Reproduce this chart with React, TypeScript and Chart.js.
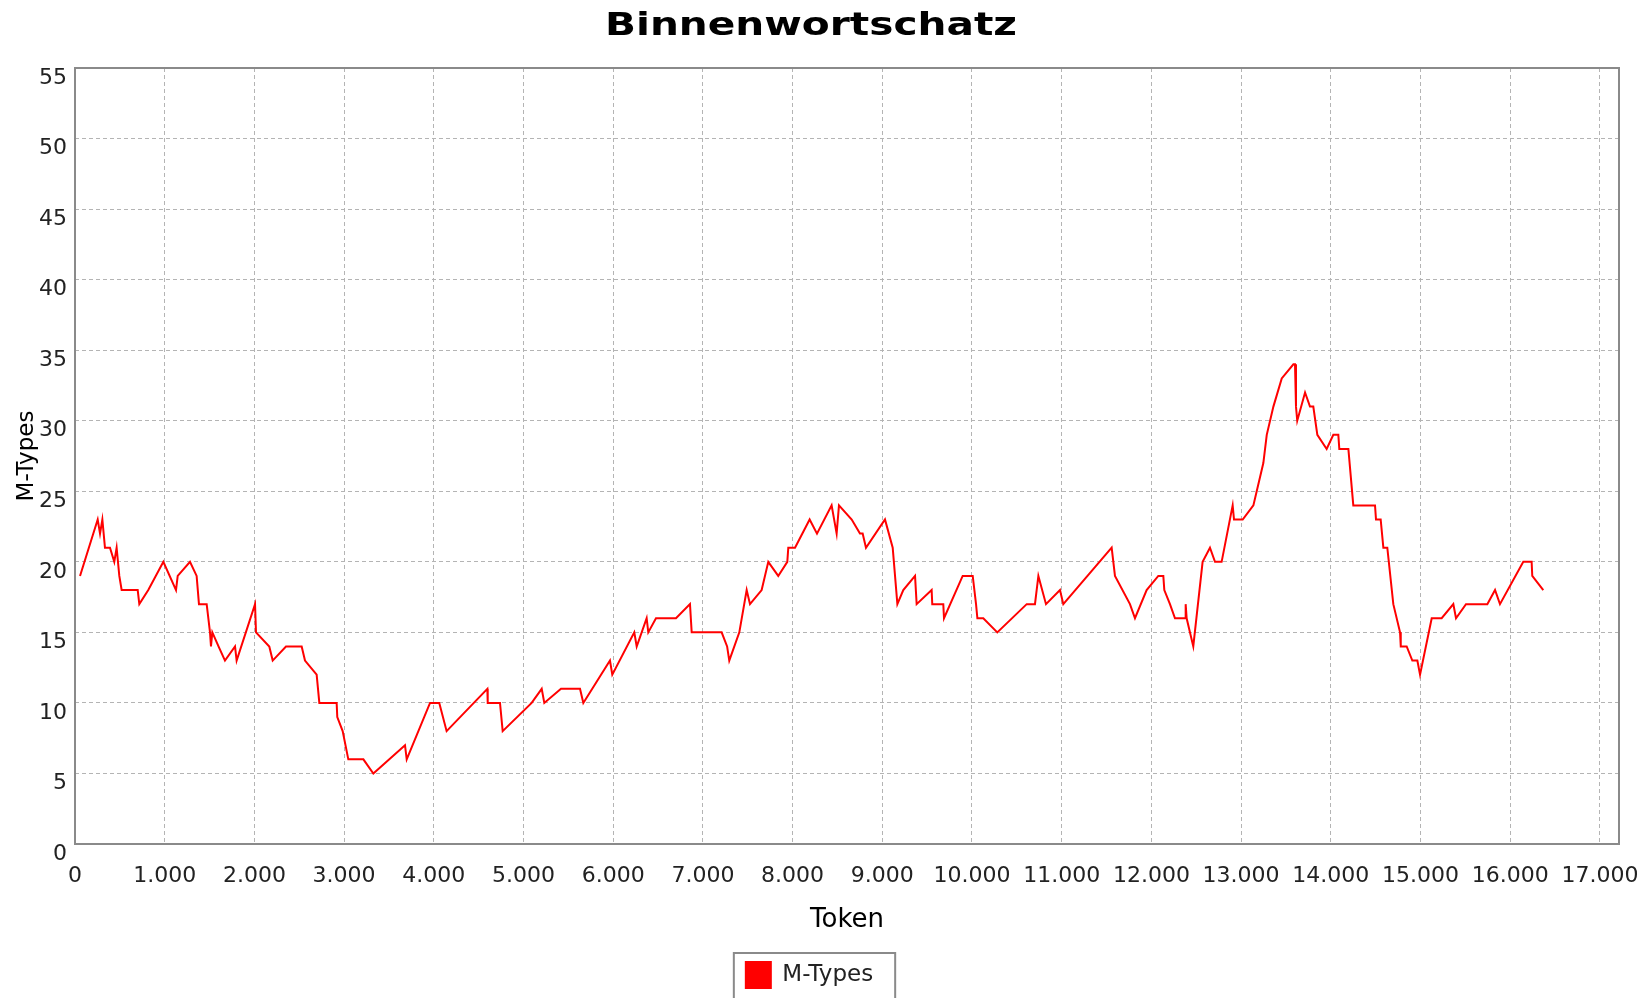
import React, { useEffect, useRef } from "react";
import { Chart, registerables } from "chart.js";

Chart.register(...registerables);

const chartTitle = "Binnenwortschatz";
const seriesLabel = "M-Types";
const xAxisTitle = "Token";
const yAxisTitle = "M-Types";

const xMin = 0;
const xMax = 17213;
const xTickValues = [
  0, 1000, 2000, 3000, 4000, 5000, 6000, 7000, 8000, 9000, 10000, 11000, 12000, 13000, 14000, 15000, 16000, 17000,
];
const yMin = 0;
const yMax = 55;
const yStep = 5;

const tokens = [
  56, 253, 279, 305, 334, 390, 438, 464, 494, 520, 699, 717, 817, 985, 1126, 1145, 1282, 1356, 1382, 1468,
  1505, 1516, 1531, 1600, 1672, 1784, 1802, 2007, 2018, 2166, 2204, 2352, 2527, 2564, 2694, 2724, 2917, 2924,
  2984, 3047, 3215, 3326, 3679, 3698, 3958, 4061, 4143, 4597, 4601, 4738, 4768, 5091, 5203, 5232, 5418, 5630,
  5667, 5964, 5990, 6235, 6262, 6373, 6391, 6477, 6700, 6856, 6875, 7209, 7270, 7294, 7406, 7488, 7525, 7655,
  7729, 7840, 7941, 7952, 8027, 8190, 8272, 8435, 8491, 8517, 8659, 8751, 8781, 8818, 9030, 9116, 9168, 9234,
  9365, 9383, 9550, 9557, 9680, 9688, 9896, 10008, 10045, 10060, 10126, 10282, 10610, 10702, 10740, 10825,
  10981, 11018, 11557, 11594, 11761, 11817, 11947, 12077, 12133, 12144, 12207, 12263, 12375, 12382, 12393,
  12467, 12571, 12653, 12709, 12783, 12906, 12921, 13018, 13137, 13248, 13286, 13360, 13453, 13583, 13601,
  13612, 13626, 13713, 13768, 13805, 13850, 13954, 14028, 14084, 14095, 14196, 14251, 14493, 14504, 14556,
  14586, 14630, 14697, 14772, 14780, 14846, 14909, 14965, 14995, 15125, 15236, 15366, 15396, 15507, 15745,
  15831, 15886, 16146, 16239, 16246, 16369,
];

const mTypes = [
  19, 23, 22, 23, 21, 21, 20, 21, 19, 18, 18, 17, 18, 20, 18, 19, 20, 19, 17, 17,
  15, 14, 15, 14, 13, 14, 13, 17, 15, 14, 13, 14, 14, 13, 12, 10, 10, 9,
  8, 6, 6, 5, 7, 6, 10, 10, 8, 11, 10, 10, 8, 10, 11, 10, 11, 11,
  10, 13, 12, 15, 14, 16, 15, 16, 16, 17, 15, 15, 14, 13, 15, 18, 17, 18,
  20, 19, 20, 21, 21, 23, 22, 24, 22, 24, 23, 22, 22, 21, 23, 21, 17, 18,
  19, 17, 18, 17, 17, 16, 19, 19, 17, 16, 16, 15, 17, 17, 19, 17,
  18, 17, 21, 19, 17, 16, 18, 19, 19, 18, 17, 16, 16, 17, 16,
  14, 20, 21, 20, 20, 24, 23, 23, 24, 27, 29, 31, 33, 34, 34,
  31, 30, 32, 31, 31, 29, 28, 29, 29, 28, 28, 24, 24, 23, 23,
  21, 21, 17, 15, 14, 14, 13, 13, 12, 16, 16, 17, 16, 17, 17,
  18, 17, 20, 20, 19, 18,
];

function formatThousands(v: number): string {
  return String(Math.round(v)).replace(/\B(?=(\d{3})+(?!\d))/g, ".");
}

const FONT = '"DejaVu Sans", "Liberation Sans", sans-serif';

const framePlugin = {
  id: "plotFrame",
  beforeDatasetsDraw(chart: any) {
    const { ctx, chartArea: a } = chart;
    ctx.save();
    ctx.strokeStyle = "#8a8a8a";
    ctx.lineWidth = 2;
    ctx.strokeRect(a.left, a.top, a.right - a.left, a.bottom - a.top);
    ctx.restore();
  },
};

const titlePlugin = {
  id: "wideTitle",
  afterDraw(chart: any) {
    const { ctx } = chart;
    ctx.save();
    ctx.font = `bold 32px ${FONT}`;
    ctx.fillStyle = "#000";
    ctx.textAlign = "left";
    ctx.textBaseline = "alphabetic";
    const w = ctx.measureText(chartTitle).width || 1;
    const targetW = 412;
    ctx.translate(605, 35);
    ctx.scale(targetW / w, 1);
    ctx.fillText(chartTitle, 0, 0);
    ctx.restore();
  },
};

const legendFramePlugin = {
  id: "legendFrame",
  afterDraw(chart: any) {
    const lg = chart.legend;
    if (!lg || !lg.legendHitBoxes || !lg.legendHitBoxes.length) return;
    const hb = lg.legendHitBoxes[0];
    const { ctx } = chart;
    ctx.save();
    ctx.strokeStyle = "#8a8a8a";
    ctx.lineWidth = 2;
    ctx.strokeRect(hb.left - 12, lg.top + 1, hb.width + 34, 80);
    ctx.restore();
  },
};

export default function App() {
  const canvasRef = useRef<HTMLCanvasElement | null>(null);

  useEffect(() => {
    document.body.style.margin = "0";
    const canvas = canvasRef.current;
    if (!canvas) return;
    const points = tokens.map((t, i) => ({ x: t, y: mTypes[i] }));
    const chart = new Chart(canvas, {
      type: "line",
      data: {
        datasets: [
          {
            label: seriesLabel,
            data: points,
            borderColor: "#ff0000",
            backgroundColor: "#ff0000",
            borderWidth: 2,
            pointRadius: 0,
            tension: 0,
            fill: false,
          },
        ],
      },
      options: {
        responsive: false,
        animation: false,
        devicePixelRatio: 1,
        layout: { padding: { top: 68, left: 0, right: 29, bottom: 0 } },
        plugins: {
          title: { display: false },
          tooltip: { enabled: false },
          legend: {
            display: true,
            position: "bottom",
            labels: {
              boxWidth: 25,
              boxHeight: 26,
              padding: 10,
              color: "#222",
              font: { family: FONT, size: 23 },
            },
          },
        },
        scales: {
          x: {
            type: "linear",
            min: xMin,
            max: xMax,
            afterBuildTicks(scale: any) {
              scale.ticks = xTickValues.map((v) => ({ value: v }));
            },
            afterFit(scale: any) {
              scale.height = 108;
              scale.paddingLeft = 0;
              scale.paddingRight = 0;
            },
            ticks: {
              autoSkip: false,
              maxRotation: 0,
              padding: 19,
              color: "#222",
              font: { family: FONT, size: 22 },
              callback: (v: any) => formatThousands(Number(v)),
            },
            grid: { color: "#b4b4b4", lineWidth: 1, drawTicks: false },
            border: { display: false, dash: [4, 3] },
            title: {
              display: true,
              text: xAxisTitle,
              color: "#000",
              font: { family: FONT, size: 26 },
              padding: { top: 0, bottom: 16 },
            },
          },
          y: {
            type: "linear",
            min: yMin,
            max: yMax,
            afterFit(scale: any) {
              scale.width = 75;
              scale.paddingTop = 0;
              scale.paddingBottom = 0;
            },
            ticks: {
              stepSize: yStep,
              padding: 8,
              labelOffset: 10,
              color: "#222",
              font: { family: FONT, size: 22 },
            },
            grid: { color: "#b4b4b4", lineWidth: 1, drawTicks: false },
            border: { display: false, dash: [4, 3] },
            title: {
              display: true,
              text: yAxisTitle,
              color: "#000",
              font: { family: FONT, size: 23 },
              padding: { top: 13, bottom: 0 },
            },
          },
        },
      },
      plugins: [framePlugin, titlePlugin, legendFramePlugin],
    });
    return () => chart.destroy();
  }, []);

  return (
    <div style={{ width: 1648, height: 998, position: "relative", background: "#fff" }}>
      <canvas ref={canvasRef} width={1648} height={998} style={{ display: "block" }} />
    </div>
  );
}
